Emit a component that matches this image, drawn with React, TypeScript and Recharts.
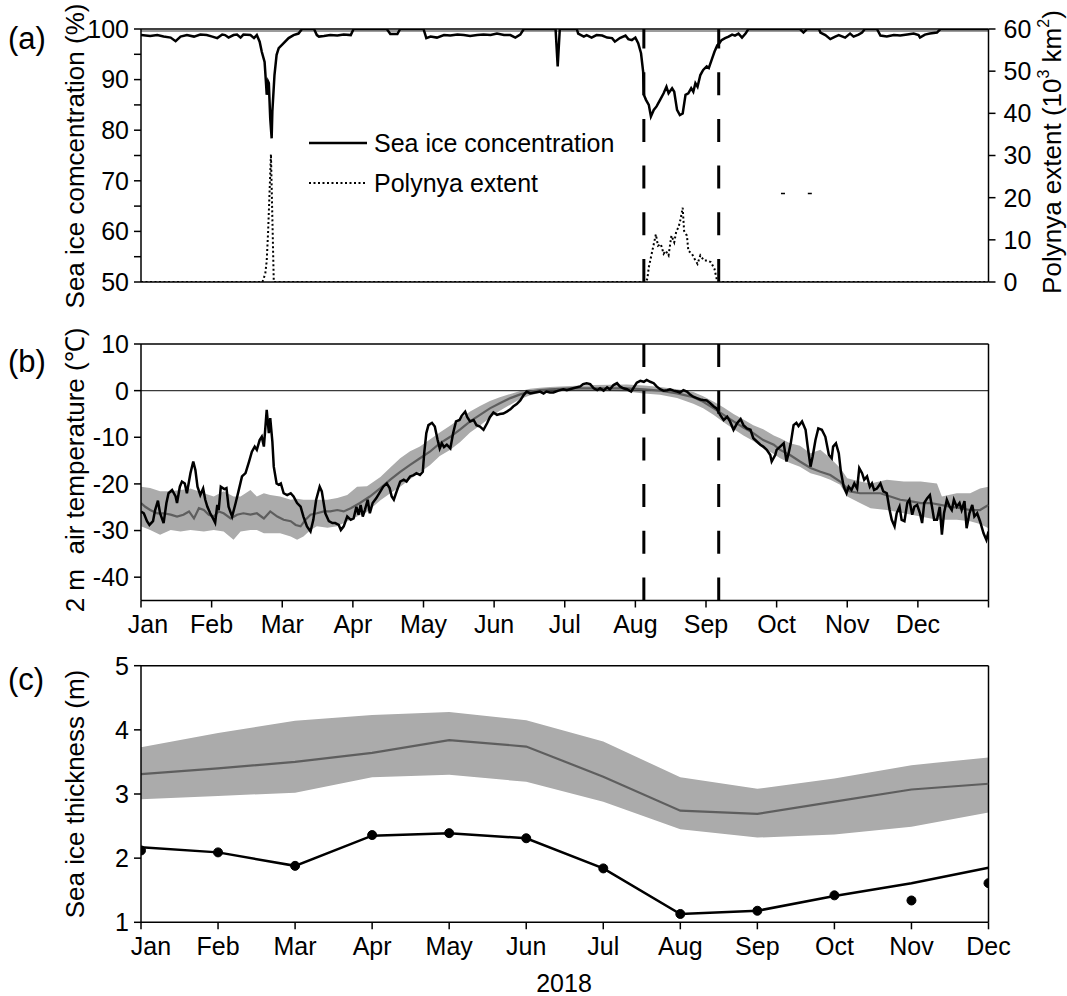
import React from 'react';
import { ComposedChart, Line, Area, XAxis, YAxis, ReferenceLine } from 'recharts';

// x positions are expressed in months since 1 Jan 2018 (0 = Jan, 12 = end of Dec)
const MONTHS = ['Jan', 'Feb', 'Mar', 'Apr', 'May', 'Jun', 'Jul', 'Aug', 'Sep', 'Oct', 'Nov', 'Dec'];
const MONTH_TICKS = [0, 1, 2, 3, 4, 5, 6, 7, 8, 9, 10, 11, 12];

// (a) sea ice concentration (%)
const seaIceConc: [number, number][] = [
  [0, 98.8], [0.13, 98.6], [0.23, 98.8], [0.32, 98.5], [0.42, 98.3], [0.49, 97.6], [0.56, 98.5], [0.65, 98.8],
  [0.75, 98.5], [0.84, 98.9], [0.93, 98.8], [1.01, 98.5], [1.08, 98.2], [1.15, 98.9], [1.19, 98.8], [1.24, 98.3],
  [1.31, 98.8], [1.36, 98.9], [1.41, 98.3], [1.45, 98.9], [1.55, 98.8], [1.6, 98.2], [1.64, 98.8], [1.68, 97.5],
  [1.71, 95.5], [1.75, 93.5], [1.77, 89.3], [1.78, 87], [1.8, 89.6], [1.81, 89.3], [1.83, 82.3], [1.85, 78.4],
  [1.86, 83.7], [1.89, 90.9], [1.92, 94.9], [1.95, 96.2], [2.02, 97.2], [2.09, 98.2], [2.16, 98.8], [2.23, 99.1],
  [2.28, 100], [2.45, 100], [2.49, 98.8], [2.52, 98.5], [2.59, 98.6], [2.68, 98.8], [2.78, 98.7], [2.87, 98.9],
  [2.97, 98.8], [3.01, 100], [3.48, 100], [3.53, 99.0], [3.63, 99.0], [3.67, 100], [4.0, 100], [4.04, 98.2],
  [4.1, 98.5], [4.19, 98.3], [4.29, 98.8], [4.38, 98.7], [4.48, 98.9], [4.57, 98.8], [4.66, 98.6], [4.76, 98.8],
  [4.85, 98.9], [4.95, 98.8], [5.04, 99.1], [5.14, 98.8], [5.23, 98.8], [5.3, 98.3], [5.37, 98.9], [5.42, 100],
  [5.87, 100], [5.9, 92.6], [5.93, 100], [6.17, 100], [6.19, 99.1], [6.27, 98.5], [6.31, 98.8], [6.38, 98.3],
  [6.45, 98.8], [6.53, 98.7], [6.6, 98.3], [6.67, 98.2], [6.71, 97.5], [6.78, 98.2], [6.86, 98.7], [6.9, 98.0],
  [6.95, 97.8], [7.0, 98.3], [7.04, 97.2], [7.08, 95.2], [7.11, 91.6], [7.12, 87], [7.15, 86], [7.19, 85],
  [7.22, 82.7], [7.26, 84], [7.3, 84.7], [7.35, 86], [7.4, 87.3], [7.44, 88.6], [7.47, 87.3], [7.52, 88.3],
  [7.55, 87.6], [7.59, 84], [7.63, 83], [7.67, 83.3], [7.71, 87], [7.75, 87.3], [7.79, 88.3], [7.82, 87.6],
  [7.85, 89.3], [7.88, 88.6], [7.92, 90.9], [7.96, 91.9], [8.01, 92.6], [8.04, 92.3], [8.08, 93.9], [8.12, 95.5],
  [8.16, 96.8], [8.19, 97.2], [8.22, 97.8], [8.27, 98.2], [8.32, 98.5], [8.37, 98.9], [8.41, 98.7], [8.46, 99.1],
  [8.51, 98.3], [8.56, 99.1], [8.6, 100], [9.33, 100], [9.38, 99.3], [9.43, 100], [9.6, 100], [9.62, 99.3],
  [9.69, 98.8], [9.76, 98.0], [9.83, 98.5], [9.88, 98.8], [9.97, 98.3], [10.04, 99.1], [10.09, 98.5], [10.16, 98.9],
  [10.21, 99.3], [10.25, 100], [10.42, 100], [10.47, 98.7], [10.56, 98.5], [10.66, 98.8], [10.75, 98.7], [10.85, 98.9],
  [10.94, 99.1], [11.01, 98.8], [11.03, 98.3], [11.1, 98.9], [11.17, 99.1], [11.27, 99.3], [11.32, 100], [12, 100],
];

// (a) polynya extent (10^3 km^2)
const polynyaExtent: [number, number][] = [
  [0, 0], [1.72, 0], [1.76, 2], [1.78, 5], [1.8, 12], [1.84, 30.3], [1.88, 0], [7.15, 0], [7.17, 0.8], [7.19, 3.5],
  [7.24, 7.4], [7.29, 11.3], [7.32, 8.6], [7.36, 9], [7.4, 6.7], [7.43, 7.4], [7.47, 6.3], [7.51, 11], [7.55, 9.4],
  [7.58, 12.1], [7.61, 12.9], [7.64, 14.9], [7.67, 17.6], [7.69, 12.1], [7.73, 11], [7.75, 7.4], [7.8, 6.7],
  [7.85, 5.1], [7.88, 4.3], [7.92, 6.3], [7.97, 5.1], [8.02, 5.1], [8.07, 4.7], [8.12, 3.1], [8.15, 0.8], [8.18, 0],
  [12, 0],
];
const polynyaSpots: [number, number][] = [[9.09, 21], [9.47, 21]];

// start and end of the summer polynya event
const polynyaEvent = [7.12, 8.18];

// (b) 2 m air temperature in 2018 (°C)
const airTemp2018: [number, number][] = [
  [0, -25.9], [0.04, -26.3], [0.085, -28], [0.12, -28.8], [0.17, -28], [0.2, -25.6], [0.24, -23.6], [0.27, -26.3],
  [0.32, -28.4], [0.36, -24.1], [0.39, -22], [0.44, -21.3], [0.49, -22.7], [0.51, -24.1], [0.55, -20.6], [0.58, -19.5],
  [0.62, -19.9], [0.65, -22], [0.7, -17.7], [0.74, -15.2], [0.77, -17], [0.8, -20.6], [0.84, -22.4], [0.88, -21],
  [0.91, -23.4], [0.94, -24.9], [0.98, -26.3], [1.02, -27.4], [1.05, -28.3], [1.08, -24.5], [1.1, -25.6], [1.13, -20.6],
  [1.18, -21.1], [1.21, -20.9], [1.24, -24.9], [1.29, -27], [1.34, -24.1], [1.38, -21.6], [1.43, -18.4], [1.48, -17.7],
  [1.53, -15.2], [1.57, -13.1], [1.61, -12], [1.64, -12.7], [1.68, -10.6], [1.71, -9.9], [1.74, -12], [1.76, -8.1],
  [1.78, -4.1], [1.81, -9.1], [1.83, -5.9], [1.86, -10.9], [1.88, -16.3], [1.92, -19.9], [1.95, -20.2], [1.98, -19.9],
  [2.02, -22], [2.07, -22.4], [2.12, -22], [2.16, -22.7], [2.21, -24.1], [2.26, -24.9], [2.3, -27], [2.35, -29.1],
  [2.4, -30.2], [2.44, -27.7], [2.48, -23.4], [2.53, -20.6], [2.56, -21.6], [2.61, -26.3], [2.66, -28], [2.71, -28.4],
  [2.75, -28.4], [2.8, -28.8], [2.83, -29.9], [2.87, -29.1], [2.92, -27], [2.97, -27.7], [3.01, -27.4], [3.05, -24.9],
  [3.08, -26.6], [3.11, -24.5], [3.14, -27], [3.17, -25.6], [3.21, -23.4], [3.24, -26.3], [3.28, -24.1], [3.33, -23.1],
  [3.39, -21.6], [3.43, -20.6], [3.48, -19.9], [3.52, -20.9], [3.55, -22.7], [3.58, -23.4], [3.62, -21.6], [3.67, -19.5],
  [3.72, -19.1], [3.76, -19.5], [3.81, -18.4], [3.86, -18.1], [3.9, -17.7], [3.95, -18.1], [3.99, -17.4], [4.01, -13.4],
  [4.04, -9.1], [4.07, -7.4], [4.12, -6.9], [4.16, -7.7], [4.2, -10.6], [4.23, -12.4], [4.26, -11.3], [4.29, -12.1],
  [4.33, -11.6], [4.38, -12.4], [4.42, -9.1], [4.46, -6.6], [4.51, -6.3], [4.54, -5.4], [4.59, -4.5], [4.62, -5.7],
  [4.66, -6.6], [4.71, -6.3], [4.75, -7.4], [4.8, -7.7], [4.85, -8.4], [4.9, -7], [4.94, -5.7], [4.99, -4.7],
  [5.04, -5.2], [5.08, -5], [5.13, -4.9], [5.18, -4.5], [5.23, -4], [5.27, -3.4], [5.32, -2.9], [5.37, -2.1],
  [5.42, -0.9], [5.46, -0.2], [5.51, -0.6], [5.58, -0.4], [5.65, -0.2], [5.7, -0.6], [5.74, -0.2], [5.79, -0.4],
  [5.84, -0.4], [5.91, 0], [5.98, 0.3], [6.03, 0.1], [6.12, 0.5], [6.22, 0.9], [6.26, 1.4], [6.31, 1.6],
  [6.36, 1.4], [6.41, 0.5], [6.46, 0.1], [6.5, 0.5], [6.55, 0], [6.6, 0.7], [6.64, 0.3], [6.69, 1.2],
  [6.74, 1.6], [6.78, 0.9], [6.83, 0.5], [6.88, 0.3], [6.94, -0.2], [6.97, 0.5], [7.02, 1.7], [7.07, 2.1],
  [7.12, 1.9], [7.16, 2.3], [7.21, 1.9], [7.26, 1.6], [7.3, 0.9], [7.35, 0.3], [7.4, 0], [7.45, 0.1],
  [7.49, 0.3], [7.54, 0], [7.59, -0.2], [7.63, -0.4], [7.68, 0.1], [7.73, -0.2], [7.78, -0.9], [7.82, -1.3],
  [7.87, -1.6], [7.92, -1.9], [7.96, -2], [8.01, -2.1], [8.06, -2.7], [8.11, -3.4], [8.15, -3.8], [8.2, -5.2],
  [8.25, -6.3], [8.3, -5.6], [8.34, -6.6], [8.39, -8.4], [8.44, -7], [8.49, -6.1], [8.53, -7.4], [8.58, -8.1],
  [8.63, -8.4], [8.67, -10.2], [8.72, -10.9], [8.77, -11.6], [8.81, -12], [8.86, -12.7], [8.91, -13.8], [8.93, -15.2],
  [8.98, -13.8], [9.0, -12.7], [9.05, -12], [9.1, -11.3], [9.14, -15.2], [9.17, -13.4], [9.2, -11.3], [9.24, -7.4],
  [9.28, -6.9], [9.31, -7.6], [9.36, -6.6], [9.41, -8.4], [9.44, -12], [9.48, -16.3], [9.51, -14.1], [9.55, -10.6],
  [9.59, -8.1], [9.64, -8.4], [9.69, -9.9], [9.74, -13.8], [9.78, -14.5], [9.8, -12], [9.84, -11.3], [9.88, -13.4],
  [9.91, -17.4], [9.95, -20.6], [9.99, -22], [10.02, -20.6], [10.06, -21.3], [10.1, -19.9], [10.14, -21], [10.17, -16.6],
  [10.21, -17.7], [10.24, -19.1], [10.28, -18.4], [10.32, -20.6], [10.35, -19.9], [10.38, -21.3], [10.42, -21], [10.47, -19.9],
  [10.51, -21.6], [10.56, -22], [10.6, -25.6], [10.63, -27.7], [10.67, -29.1], [10.7, -26.3], [10.74, -24.9], [10.77, -27.7],
  [10.81, -28], [10.85, -24.1], [10.88, -23.4], [10.92, -26.6], [10.95, -24.9], [10.99, -24.5], [11.03, -26.3], [11.06, -28.4],
  [11.09, -24.1], [11.13, -23.1], [11.17, -22.4], [11.2, -24.9], [11.23, -27.7], [11.27, -27.7], [11.31, -24.9], [11.34, -30.9],
  [11.37, -26.3], [11.41, -23.4], [11.45, -24.9], [11.48, -25.6], [11.51, -23.4], [11.55, -24.9], [11.59, -24.1], [11.62, -25.6],
  [11.66, -23.7], [11.69, -29.5], [11.73, -26.3], [11.77, -24.5], [11.8, -27], [11.84, -26.3], [11.88, -28], [11.93, -30.6],
  [11.97, -32], [12.0, -30.2],
];

// (b) climatological mean 2 m air temperature (°C)
const airTempClimMean: [number, number][] = [
  [0, -24.1], [0.06, -24.9], [0.13, -25.6], [0.23, -26.3], [0.32, -26.3], [0.42, -26.6], [0.51, -27], [0.6, -26.6],
  [0.68, -25.9], [0.75, -27.4], [0.82, -25.2], [0.89, -25.6], [0.96, -26.6], [1.03, -27], [1.1, -25.9], [1.17, -26.3],
  [1.27, -27.4], [1.36, -26.6], [1.45, -26.3], [1.55, -26.6], [1.64, -26.3], [1.74, -27.4], [1.83, -25.9], [1.93, -27],
  [2.02, -27.7], [2.12, -28], [2.19, -28.8], [2.26, -29.1], [2.33, -27.7], [2.4, -26.6], [2.49, -26.3], [2.59, -25.9],
  [2.68, -25.9], [2.78, -25.6], [2.87, -25.9], [2.97, -25.2], [3.1, -24.1], [3.24, -22.7], [3.39, -20.9], [3.53, -19.1],
  [3.67, -17.4], [3.81, -15.9], [3.95, -14.5], [4.09, -13.1], [4.23, -11.3], [4.38, -9.9], [4.52, -8.3], [4.66, -6.6],
  [4.8, -5.2], [4.94, -3.8], [5.08, -2.7], [5.23, -1.6], [5.37, -0.8], [5.51, -0.2], [5.65, 0.1], [5.79, 0.3],
  [6.08, 0.5], [6.41, 0.5], [6.88, 0.5], [7.12, 0.3], [7.35, 0], [7.59, -0.6], [7.82, -1.4], [7.96, -2.4],
  [8.11, -3.8], [8.25, -5.2], [8.39, -6.6], [8.53, -7.9], [8.67, -9.1], [8.81, -10.6], [8.96, -11.6], [9.05, -12.7],
  [9.19, -13.8], [9.33, -15.2], [9.48, -16.6], [9.62, -17.4], [9.76, -18.1], [9.9, -19.5], [10.04, -21.6], [10.18, -22],
  [10.33, -22], [10.47, -22], [10.61, -22.7], [10.75, -23.4], [10.89, -23.7], [11.04, -24.1], [11.18, -24.1], [11.32, -24.5],
  [11.46, -24.9], [11.6, -25.2], [11.74, -25.6], [11.88, -25.6], [12.0, -24.5],
];

// (b) climatological spread: [month, lower, upper] (°C)
const airTempClimRange: [number, number, number][] = [
  [0, -29.1, -20.6], [0.13, -29.9, -20.9], [0.27, -30.9, -21.6], [0.42, -29.9, -21.6], [0.56, -30.2, -21.3],
  [0.7, -29.9, -21], [0.89, -30.2, -22], [1.03, -29.9, -22.7], [1.17, -30.2, -21.6], [1.31, -32, -22.7],
  [1.41, -30.2, -22.7], [1.55, -29.9, -21.3], [1.64, -29.9, -22.7], [1.74, -30.6, -22], [1.83, -30.6, -22.4],
  [1.97, -30.6, -22.7], [2.12, -31.3, -23.4], [2.21, -32, -23.2], [2.3, -31.3, -23.4], [2.4, -29.9, -23.4],
  [2.49, -29.1, -23.4], [2.64, -29.4, -23.4], [2.78, -29.1, -23], [2.92, -28, -22.4], [3.06, -27, -20.6],
  [3.2, -26, -20.5], [3.39, -23.5, -18.5], [3.53, -22, -16.5], [3.67, -20.6, -14.5], [3.81, -19, -13],
  [3.95, -17.5, -12], [4.09, -16, -10.5], [4.23, -14, -9], [4.38, -12.7, -7.5], [4.52, -11, -6],
  [4.66, -9, -4.5], [4.8, -7.5, -3.3], [4.94, -5.8, -2.2], [5.08, -4.3, -1.4], [5.23, -3, -0.7],
  [5.37, -1.8, -0.1], [5.51, -1, 0.4], [5.65, -0.5, 0.6], [5.79, -0.2, 0.8], [6.08, 0, 1.0],
  [6.41, 0, 1.2], [6.88, -0.2, 1.3], [7.12, -0.6, 1.1], [7.35, -0.9, 0.8], [7.59, -1.6, 0.3],
  [7.82, -2.8, -0.3], [7.96, -3.8, -1.2], [8.11, -5.2, -2.4], [8.25, -6.8, -3.6], [8.39, -8.2, -5],
  [8.53, -9.6, -6.2], [8.67, -10.8, -7.4], [8.81, -12.3, -8.3], [8.96, -13.6, -9.6], [9.05, -14.5, -10.2],
  [9.19, -15.5, -11.3], [9.33, -16.3, -11.8], [9.48, -17.7, -13.4], [9.62, -18.3, -12.7], [9.76, -19.1, -14.5],
  [9.9, -20.2, -16.6], [10.0, -22.7, -18.8], [10.18, -24.1, -19.5], [10.33, -25.2, -19.9], [10.56, -25.6, -19.1],
  [10.8, -26.3, -19.5], [11.04, -27, -19.5], [11.27, -27.7, -19.9], [11.34, -27.7, -22.7], [11.55, -27.7, -22],
  [11.74, -28, -22], [11.88, -28.6, -21], [12.0, -29.5, -20.6],
];

// (c) monthly sea ice thickness (m), one value per month Jan..Dec
const thicknessLine = [2.17, 2.09, 1.88, 2.35, 2.39, 2.31, 1.84, 1.13, 1.18, 1.41, 1.61, 1.85];
const thicknessPoints = [2.12, 2.09, 1.88, 2.36, 2.39, 2.31, 1.84, 1.13, 1.18, 1.42, 1.34, 1.61];
const thicknessClimMean = [3.31, 3.4, 3.5, 3.64, 3.84, 3.74, 3.27, 2.74, 2.69, 2.88, 3.07, 3.16];
const thicknessClimLow = [2.92, 2.97, 3.02, 3.26, 3.3, 3.19, 2.88, 2.45, 2.32, 2.37, 2.49, 2.71];
const thicknessClimHigh = [3.73, 3.95, 4.14, 4.23, 4.28, 4.15, 3.82, 3.26, 3.08, 3.24, 3.45, 3.57];

const FONT = '"Liberation Sans", Arial, Helvetica, sans-serif';
const AXIS = { stroke: '#000', strokeWidth: 1.5 };
const TICK_FONT = 25;
const TITLE_FONT = 26;
const BAND = '#ababab';
const MEAN = '#5e5e5e';

const pts = (rows: [number, number][]) => rows.map(([m, v]) => ({ m, v }));

const sicData = pts(seaIceConc);
const polData = pts(polynyaExtent);
const spotData = pts(polynyaSpots);
const tempData = pts(airTemp2018);
const meanData = pts(airTempClimMean);
const rangeData = airTempClimRange.map(([m, lo, hi]) => ({ m, v: [lo, hi] }));
const thickData = MONTHS.map((_, i) => ({
  m: i,
  line: thicknessLine[i],
  obs: thicknessPoints[i],
  mean: thicknessClimMean[i],
  band: [thicknessClimLow[i], thicknessClimHigh[i]],
}));

// month name under each tick; the first label is nudged right so it clears the y-axis labels
const makeMonthTick = (firstShift: number) => (props: any) => {
  const { x, y, payload } = props;
  const i = payload?.value;
  const label = i >= 0 && i < 12 ? MONTHS[i] : '';
  return (
    <text x={x + (i === 0 ? firstShift : 0)} y={y} dy={23} textAnchor="middle" fontSize={TICK_FONT} fill="#000" fontFamily={FONT}>
      {label}
    </text>
  );
};

const SpotDot = (props: any) => {
  const { cx, cy, index } = props;
  if (cx == null || cy == null) return <g key={`s${index}`} />;
  return <line key={`s${index}`} x1={cx - 2} x2={cx + 2} y1={cy} y2={cy} stroke="#000" strokeWidth={1.5} />;
};

const yTick = { fontSize: TICK_FONT, fill: '#000' };

export default function App() {
  return (
    <div style={{ position: 'absolute', left: 0, top: 0, width: 1067, height: 996, background: '#fff', fontFamily: FONT }}>
      {/* (a) sea ice concentration and polynya extent */}
      <div style={{ position: 'absolute', left: 0, top: 0 }}>
        <ComposedChart width={1067} height={300} margin={{ top: 29, right: 28.5, bottom: 0, left: 81 }}>
          <XAxis
            type="number"
            dataKey="m"
            domain={[0, 12]}
            ticks={MONTH_TICKS}
            tick={false}
            tickSize={7}
            height={18}
            axisLine={AXIS}
            tickLine={AXIS}
            allowDataOverflow
          />
          <YAxis
            yAxisId="sic"
            domain={[50, 100]}
            ticks={[50, 55, 60, 65, 70, 75, 80, 85, 90, 95, 100]}
            tickFormatter={(v: number) => (v % 10 === 0 ? String(v) : '')}
            width={60}
            tickSize={7}
            tickMargin={5}
            axisLine={AXIS}
            tickLine={AXIS}
            tick={yTick}
            allowDataOverflow
          />
          <YAxis
            yAxisId="pol"
            orientation="right"
            domain={[0, 60]}
            ticks={[0, 10, 20, 30, 40, 50, 60]}
            width={50}
            tickSize={7}
            tickMargin={8}
            axisLine={AXIS}
            tickLine={AXIS}
            tick={yTick}
            allowDataOverflow
          />
          <ReferenceLine yAxisId="sic" y={99.6} stroke="#9c9c9c" strokeWidth={2} />
          <ReferenceLine yAxisId="sic" y={100} stroke="#000" strokeWidth={1.5} />
          {polynyaEvent.map((x) => (
            <ReferenceLine key={`a${x}`} yAxisId="sic" x={x} stroke="#000" strokeWidth={3} strokeDasharray="23 23.7" />
          ))}
          <Line
            data={sicData}
            yAxisId="sic"
            dataKey="v"
            type="linear"
            stroke="#000"
            strokeWidth={2.5}
            dot={false}
            isAnimationActive={false}
          />
          <Line
            data={polData}
            yAxisId="pol"
            dataKey="v"
            type="linear"
            stroke="#000"
            strokeWidth={2}
            strokeDasharray="2 2.5"
            dot={false}
            isAnimationActive={false}
          />
          <Line
            data={spotData}
            yAxisId="pol"
            dataKey="v"
            stroke="none"
            dot={SpotDot}
            isAnimationActive={false}
          />
        </ComposedChart>
      </div>

      {/* (b) 2 m air temperature */}
      <div style={{ position: 'absolute', left: 0, top: 300 }}>
        <ComposedChart width={1067} height={340} margin={{ top: 44, right: 78.5, bottom: 0, left: 81 }}>
          <XAxis
            type="number"
            dataKey="m"
            domain={[0, 12]}
            ticks={MONTH_TICKS}
            tick={makeMonthTick(7)}
            tickSize={7}
            tickMargin={2}
            height={39.5}
            axisLine={AXIS}
            tickLine={AXIS}
            allowDataOverflow
          />
          <YAxis
            domain={[-45, 10]}
            ticks={[-40, -30, -20, -10, 0, 10]}
            width={60}
            tickSize={7}
            tickMargin={5}
            axisLine={AXIS}
            tickLine={AXIS}
            tick={yTick}
            allowDataOverflow
          />
          <Area
            data={rangeData}
            dataKey="v"
            type="linear"
            stroke="none"
            fill={BAND}
            fillOpacity={1}
            isAnimationActive={false}
          />
          <ReferenceLine y={0} stroke="#3a3a3a" strokeWidth={1.3} />
          <ReferenceLine y={10} stroke="#000" strokeWidth={1.5} />
          <ReferenceLine x={12} stroke="#000" strokeWidth={1.5} />
          {polynyaEvent.map((x) => (
            <ReferenceLine key={`b${x}`} x={x} stroke="#000" strokeWidth={3} strokeDasharray="23 23.7" />
          ))}
          <Line
            data={meanData}
            dataKey="v"
            type="linear"
            stroke={MEAN}
            strokeWidth={2.2}
            dot={false}
            isAnimationActive={false}
          />
          <Line
            data={tempData}
            dataKey="v"
            type="linear"
            stroke="#000"
            strokeWidth={2.5}
            dot={false}
            isAnimationActive={false}
          />
        </ComposedChart>
      </div>

      {/* (c) sea ice thickness */}
      <div style={{ position: 'absolute', left: 0, top: 640 }}>
        <ComposedChart data={thickData} width={1067} height={330} margin={{ top: 25.7, right: 78.5, bottom: 0, left: 81 }}>
          <XAxis
            type="number"
            dataKey="m"
            domain={[0, 11]}
            ticks={[0, 1, 2, 3, 4, 5, 6, 7, 8, 9, 10, 11]}
            tick={makeMonthTick(10)}
            tickSize={7}
            tickMargin={3}
            height={47.7}
            axisLine={AXIS}
            tickLine={AXIS}
            allowDataOverflow
          />
          <YAxis
            domain={[1, 5]}
            ticks={[1, 2, 3, 4, 5]}
            width={60}
            tickSize={7}
            tickMargin={5}
            axisLine={AXIS}
            tickLine={AXIS}
            tick={yTick}
            allowDataOverflow
          />
          <Area dataKey="band" type="linear" stroke="none" fill={BAND} fillOpacity={1} isAnimationActive={false} />
          <ReferenceLine y={5} stroke="#000" strokeWidth={1.5} />
          <ReferenceLine x={11} stroke="#000" strokeWidth={1.5} />
          <Line dataKey="mean" type="linear" stroke={MEAN} strokeWidth={2.2} dot={false} isAnimationActive={false} />
          <Line dataKey="line" type="linear" stroke="#000" strokeWidth={2.5} dot={false} isAnimationActive={false} />
          <Line
            dataKey="obs"
            stroke="none"
            dot={{ r: 4.5, fill: '#000', stroke: '#000', strokeWidth: 1 }}
            isAnimationActive={false}
          />
        </ComposedChart>
      </div>

      {/* titles, panel letters and legend */}
      <svg
        width={1067}
        height={996}
        style={{ position: 'absolute', left: 0, top: 0, pointerEvents: 'none' }}
        fontFamily={FONT}
      >
        <text x={8} y={38} fontSize={31} dominantBaseline="central">(a)</text>
        <text x={8} y={361} fontSize={31} dominantBaseline="central">(b)</text>
        <text x={8} y={679} fontSize={31} dominantBaseline="central">(c)</text>

        <text x={75} y={156} fontSize={TITLE_FONT} textAnchor="middle" dominantBaseline="central" transform="rotate(-90 75 156)">
          Sea ice comcentration (%)
        </text>
        <text x={1052} y={152} fontSize={TITLE_FONT} textAnchor="middle" dominantBaseline="central" transform="rotate(-90 1052 152)">
          Polynya extent (10
          <tspan dy={-9} fontSize={16}>3</tspan>
          <tspan dy={9}> km</tspan>
          <tspan dy={-9} fontSize={16}>2</tspan>
          <tspan dy={9}>)</tspan>
        </text>
        <text
          x={75}
          y={470}
          fontSize={TITLE_FONT}
          textAnchor="middle"
          dominantBaseline="central"
          transform="rotate(-90 75 470)"
          style={{ whiteSpace: 'pre' }}
        >
          {'2 m  air temperature (℃)'}
        </text>
        <text x={75} y={794} fontSize={TITLE_FONT} textAnchor="middle" dominantBaseline="central" transform="rotate(-90 75 794)">
          Sea ice thickness (m)
        </text>
        <text x={564} y={983} fontSize={25} textAnchor="middle" dominantBaseline="central">2018</text>

        <line x1={309} x2={367} y1={143} y2={143} stroke="#000" strokeWidth={2.5} />
        <text x={374} y={143} fontSize={25} dominantBaseline="central">Sea ice concentration</text>
        <line x1={309} x2={367} y1={183} y2={183} stroke="#000" strokeWidth={2} strokeDasharray="2 2.5" />
        <text x={374} y={183} fontSize={25} dominantBaseline="central">Polynya extent</text>
      </svg>
    </div>
  );
}
